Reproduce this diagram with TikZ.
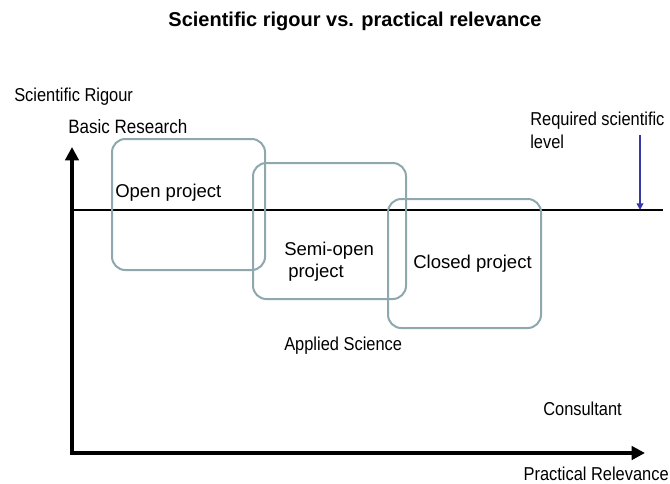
\documentclass[tikz,border=0pt]{standalone}
\usepackage{fontspec}
\setmainfont{Liberation Sans}
\newfontfamily\narrowsans[FakeStretch=0.88]{Liberation Sans}
\usetikzlibrary{arrows.meta}
\definecolor{boxgrey}{RGB}{143,168,173}
\definecolor{levelblue}{RGB}{55,55,165}
\tikzset{
  projbox/.style={draw=boxgrey, line width=1.5pt, rounded corners=10pt, inner sep=0pt},
  boxtext/.style={font=\fontsize{13.9}{15.8}\selectfont, inner sep=0pt, align=left},
  axislabel/.style={font=\narrowsans\fontsize{14}{17}\selectfont, inner sep=0pt, align=left},
  axis/.style={line width=3.3pt, line join=miter, {Triangle[length=10pt,width=10pt]}-{Triangle[length=10pt,width=10pt]}},
}
\begin{document}
\begin{tikzpicture}[x=0.75pt,y=-0.75pt]
\useasboundingbox (0,0) rectangle (670,483);
\node[font=\bfseries\fontsize{15}{18}\selectfont, anchor=base, inner sep=0pt] (title) at (355,26) {Scientific rigour vs. practical relevance};

\coordinate (origin) at (72,453);
\coordinate (ytip) at (72,147);
\coordinate (xtip) at (645,453);
\draw[axis] (ytip) -- (origin) -- (xtip);

\coordinate (lvlL) at (72,210);
\coordinate (lvlR) at (663,210);
\draw[line width=0.9pt] (lvlL) -- (lvlR);
\coordinate (reqtop) at (640,135);
\draw[levelblue, line width=1.5pt, -{Triangle[length=5pt,width=5pt]}] (reqtop) -- (reqtop |- lvlR);

\node[projbox, minimum width=114.75pt, minimum height=98.25pt] (openbox) at (188.5,204.5) {};
\node[projbox, minimum width=114.75pt, minimum height=102pt] (semibox) at (329.5,231) {};
\node[projbox, minimum width=114.75pt, minimum height=96.75pt] (closedbox) at (464.5,263.5) {};

\node[boxtext, anchor=base west] (opentxt) at (115,197) {Open project};
\node[boxtext, anchor=base west] (semitxt) at (284,277) {Semi-open\\\hspace*{3pt}project};
\node[boxtext, anchor=base west] (closedtxt) at (413,268) {Closed project};

\node[axislabel, anchor=base west] (rigour) at (14,101) {Scientific Rigour};
\node[axislabel, anchor=base west, font=\narrowsans\fontsize{14.5}{17}\selectfont] (basic) at (68,133) {Basic Research};
\node[axislabel, anchor=base west] (required) at (530,148) {Required scientific\\level};
\node[axislabel, anchor=base west] (applied) at (284,350) {Applied Science};
\node[axislabel, anchor=base west] (consult) at (543,415) {Consultant};
\node[axislabel, anchor=base east] (practical) at (669,480) {Practical Relevance};
\end{tikzpicture}
\end{document}
